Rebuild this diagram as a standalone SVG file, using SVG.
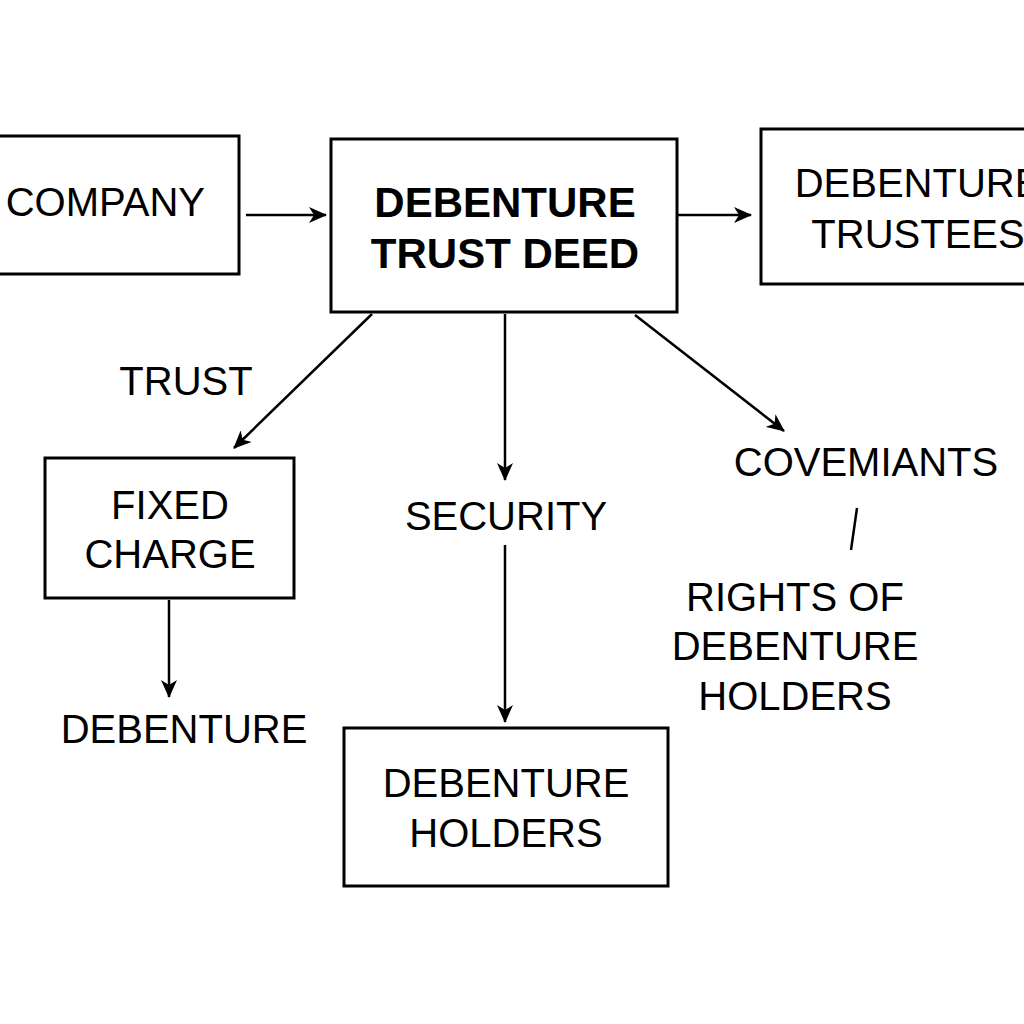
<svg xmlns="http://www.w3.org/2000/svg" width="1024" height="1024" viewBox="0 0 1024 1024">
<defs>
<marker id="ah" markerWidth="18" markerHeight="16" refX="17" refY="8" orient="auto" markerUnits="userSpaceOnUse" viewBox="0 0 18 16">
<path d="M0,0 L18,8 L0,16 L5,8 Z" fill="#000"/>
</marker>
<style>
.box{fill:#fff;stroke:#000;stroke-width:3}
.t{font-family:"Liberation Sans",Arial,sans-serif;font-size:40px;fill:#000;text-anchor:middle}
.b{font-weight:bold;font-size:42px}
.c{stroke:#000;stroke-width:2.5;fill:none}
.a{marker-end:url(#ah)}
</style>
</defs>
<rect width="1024" height="1024" fill="#fff"/>
<g id="connectors">
<line class="c a" x1="246" y1="215" x2="326" y2="215"/>
<line class="c a" x1="678" y1="215" x2="751" y2="215"/>
<line class="c a" x1="372" y1="314" x2="234" y2="448"/>
<line class="c a" x1="505" y1="314" x2="505" y2="480"/>
<line class="c a" x1="505" y1="545" x2="505" y2="722"/>
<line class="c a" x1="635" y1="315" x2="784" y2="431"/>
<line class="c a" x1="169" y1="600" x2="169" y2="697"/>
<line class="c" x1="857" y1="508" x2="851" y2="550"/>
</g>
<g id="company">
<rect class="box" x="-10" y="136" width="249" height="138"/>
<text class="t" x="205" y="216" style="text-anchor:end">COMPANY</text>
</g>
<g id="deed">
<rect class="box" x="331" y="139" width="346" height="173"/>
<text class="t b" x="505" y="217">DEBENTURE</text>
<text class="t b" x="505" y="268">TRUST DEED</text>
</g>
<g id="trustees">
<rect class="box" x="761" y="129" width="290" height="155"/>
<text class="t" x="918" y="197">DEBENTURE</text>
<text class="t" x="918" y="248">TRUSTEES</text>
</g>
<g id="trust-label">
<text class="t" x="186" y="395">TRUST</text>
</g>
<g id="fixed-charge">
<rect class="box" x="45" y="458" width="249" height="140"/>
<text class="t" x="170" y="519">FIXED</text>
<text class="t" x="170" y="568">CHARGE</text>
</g>
<g id="debenture-label">
<text class="t" x="184" y="743">DEBENTURE</text>
</g>
<g id="security">
<text class="t" x="506" y="530">SECURITY</text>
</g>
<g id="holders">
<rect class="box" x="344" y="728" width="324" height="158"/>
<text class="t" x="506" y="797">DEBENTURE</text>
<text class="t" x="506" y="847">HOLDERS</text>
</g>
<g id="covenants">
<text class="t" x="866" y="476">COVEMIANTS</text>
</g>
<g id="rights">
<text class="t" x="795" y="611">RIGHTS OF</text>
<text class="t" x="795" y="660">DEBENTURE</text>
<text class="t" x="795" y="710">HOLDERS</text>
</g>
</svg>
